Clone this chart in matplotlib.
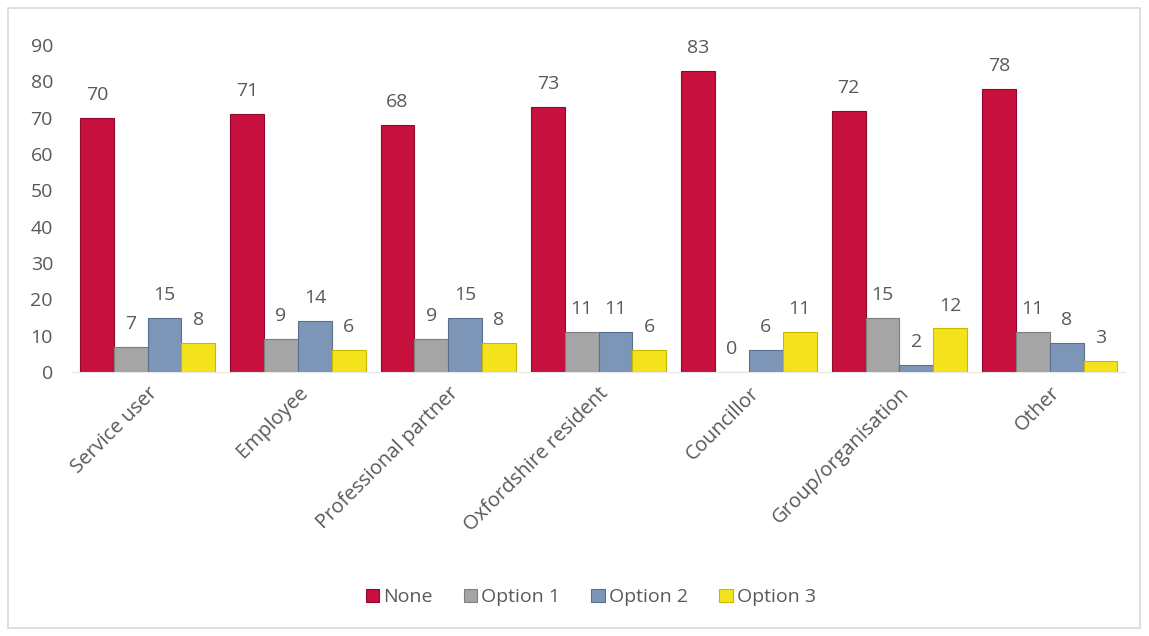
#!/usr/bin/env python3
"""Clustered bar chart of responses per respondent type."""

import numpy as np
import matplotlib.pyplot as plt
from matplotlib.patches import Rectangle

categories = ["Service user", "Employee", "Professional partner",
              "Oxfordshire resident", "Councillor", "Group/organisation", "Other"]
series_names = ["None", "Option 1", "Option 2", "Option 3"]
none_vals = [70, 71, 68, 73, 83, 72, 78]
option1_vals = [7, 9, 9, 11, 0, 15, 11]
option2_vals = [15, 14, 15, 11, 6, 2, 8]
option3_vals = [8, 6, 8, 6, 11, 12, 3]

colors = ["#C8103F", "#A5A5A5", "#7D95B7", "#F3E21C"]
edges = ["#8E0A2C", "#7F7F7F", "#5A6F8E", "#C9B800"]
text_color = "#595959"

plt.rcParams["font.family"] = ["Open Sans", "DejaVu Sans"]

fig = plt.figure(figsize=(11.49, 6.36), dpi=100)
ax = fig.add_axes([0.063, 0.415, 0.916, 0.514])

x = np.arange(len(categories))
width = 0.225
values = [none_vals, option1_vals, option2_vals, option3_vals]

for i, vals in enumerate(values):
    pos = x + (i - 1.5) * width
    ax.bar(pos, vals, width=width, color=colors[i], edgecolor=edges[i],
           linewidth=0.8, label=series_names[i], zorder=2)
    for px, v in zip(pos, vals):
        ax.annotate(str(v), (px, v), xytext=(0, 10), textcoords="offset points",
                    ha="center", va="bottom", fontsize=14, color=text_color)

ax.set_ylim(0, 90)
ax.set_yticks(np.arange(0, 91, 10))
ax.set_xlim(-0.5, len(categories) - 0.5)
ax.set_xticks(x)
ax.set_xticklabels(categories, rotation=45, ha="right", rotation_mode="anchor",
                   fontsize=14.5, color=text_color)
ax.tick_params(axis="y", labelsize=14, labelcolor=text_color, length=0, pad=14)
ax.tick_params(axis="x", length=0, pad=8)
for side in ["top", "right", "left"]:
    ax.spines[side].set_visible(False)
ax.spines["bottom"].set_color("#E6E6E6")

leg = fig.legend(loc="center", bbox_to_anchor=(0.514, 0.061), ncol=4,
                 frameon=False, fontsize=14, handlelength=0.7, handleheight=0.7,
                 handletextpad=0.2, columnspacing=1.6)
for t in leg.get_texts():
    t.set_color(text_color)

fig.patches.append(Rectangle((0.007, 0.013), 0.985, 0.975, transform=fig.transFigure,
                             fill=False, edgecolor="#D9D9D9", linewidth=1.2))

fig.savefig("out.png", dpi=100)
